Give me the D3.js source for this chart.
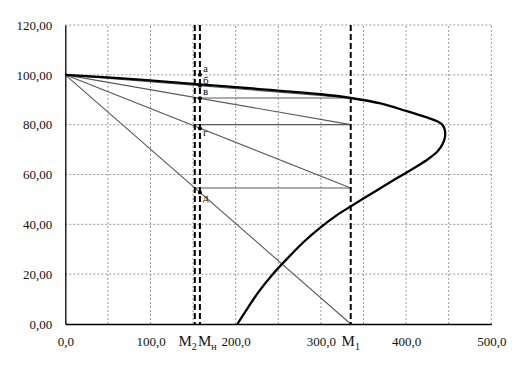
<!DOCTYPE html>
<html><head><meta charset="utf-8">
<script src="https://cdn.jsdelivr.net/npm/d3@7"></script>
<style>
html,body{margin:0;padding:0;background:#fff;}
svg{display:block;font-family:"Liberation Serif","DejaVu Serif",serif;}
</style></head>
<body><svg id="c" width="522" height="374"></svg>
<script>
// ---- data ----
const xTickValues = [0, 100, 200, 300, 400, 500];
const yTickValues = [0, 20, 40, 60, 80, 100, 120];
const xGridValues = [50, 100, 150, 200, 250, 300, 350, 400, 450, 500];
const yGridValues = [20, 40, 60, 80, 100, 120];
// natural characteristic (torque M, speed n %)
const curveM = [0, 75, 150, 228, 300, 335, 370, 400, 426, 437, 443, 445.5, 445.7, 443, 437, 426, 410, 390, 365, 335, 318, 300, 281, 262, 244, 228, 215, 202];
const curveN = [100, 98.4, 96.4, 94.3, 92.2, 90.7, 88.5, 85.5, 82.7, 81.3, 79.8, 77.8, 75.2, 72.3, 69.3, 66.2, 62.7, 58.7, 53.5, 47.2, 43.5, 38.9, 33.3, 26.8, 20.2, 13.4, 6.9, 0];
// switching torques
const M2 = 152, Mn = 158, M1 = 335;
const startSpeed = 100;
const rayEndSpeeds = [90.7, 80, 54.6, 0];      // artificial characteristics end at M1
const stepSpeeds = [90.7, 80, 54.6];            // horizontal transitions
const stepStartM = [155.8, 152, 152];
const pointNames = ["а", "б", "в", "г", "д"];
const pointSpeeds = [100, 95.6, 90.6, 78.5, 52.8];
const markerNames = ["M2", "Mн", "M1"];

// ---- layout ----
const svg = d3.select("#c");
const x = d3.scaleLinear().domain([0, 500]).range([65.3, 491.3]);
const y = d3.scaleLinear().domain([0, 120]).range([324, 25]);
const loc = d3.formatLocale({decimal: ",", thousands: " ", grouping: [3], currency: ["", ""]});
const fy = loc.format(".2f"), fx = loc.format(".1f");

// grid
svg.append("g").selectAll("line").data(xGridValues).join("line")
  .attr("x1", d => x(d)).attr("x2", d => x(d)).attr("y1", y(0)).attr("y2", y(120))
  .attr("stroke", "#9a9a9a").attr("stroke-width", 1).attr("stroke-dasharray", "2,2");
svg.append("g").selectAll("line").data(yGridValues).join("line")
  .attr("y1", d => y(d)).attr("y2", d => y(d)).attr("x1", x(0)).attr("x2", x(500))
  .attr("stroke", "#9a9a9a").attr("stroke-width", 1).attr("stroke-dasharray", "2,2");

// axes
const ax = svg.append("g").attr("transform", `translate(0,${y(0)})`)
  .call(d3.axisBottom(x).tickValues(xTickValues).tickSize(0).tickPadding(13).tickFormat(fx));
const ay = svg.append("g").attr("transform", `translate(${x(0)},0)`)
  .call(d3.axisLeft(y).tickValues(yTickValues).tickSize(0).tickPadding(13).tickFormat(fy));
[ax, ay].forEach(g => {
  g.select(".domain").attr("stroke", "#000").attr("stroke-width", 1.3);
  g.selectAll("text").attr("font-family", "Liberation Serif, serif").attr("font-size", 13).attr("fill", "#111");
});

// rays from (0,100)
const thin = "#5a5a5a";
svg.append("g").selectAll("line").data(rayEndSpeeds).join("line")
  .attr("x1", x(0)).attr("y1", y(startSpeed)).attr("x2", x(M1)).attr("y2", d => y(d))
  .attr("stroke", thin).attr("stroke-width", 1.1);
// horizontal steps
svg.append("g").selectAll("line").data(stepSpeeds).join("line")
  .attr("x1", (d, i) => x(stepStartM[i])).attr("x2", x(M1)).attr("y1", d => y(d)).attr("y2", d => y(d))
  .attr("stroke", thin).attr("stroke-width", 1.1);

// natural characteristic
const pts = curveM.map((m, i) => [m, curveN[i]]);
svg.append("path").datum(pts)
  .attr("d", d3.line().x(d => x(d[0])).y(d => y(d[1])).curve(d3.curveCatmullRom.alpha(0.5)))
  .attr("fill", "none").attr("stroke", "#000").attr("stroke-width", 2.3).attr("stroke-linejoin", "round");

// dashed verticals
svg.append("g").selectAll("line").data([M2, Mn, M1]).join("line")
  .attr("x1", d => x(d)).attr("x2", d => x(d)).attr("y1", y(120)).attr("y2", y(0))
  .attr("stroke", "#000").attr("stroke-width", 2).attr("stroke-dasharray", "6,3");

// points on Mн
svg.append("g").selectAll("circle").data(pointSpeeds).join("circle")
  .attr("cx", x(Mn)).attr("cy", d => y(d)).attr("r", 2).attr("fill", "#000");
const labelDy = [-3, -2, -3, 8, 9];
svg.append("g").selectAll("text").data(pointNames).join("text")
  .attr("x", x(Mn) + 3).attr("y", (d, i) => y(pointSpeeds[i]) + labelDy[i])
  .attr("font-size", 11).attr("fill", "#111").text(d => d);

// M labels
const mVals = [M2, Mn, M1];
const mg = svg.append("g").attr("font-size", 15).attr("fill", "#111");
mVals.forEach((v, i) => {
  const t = mg.append("text").attr("y", 346);
  t.append("tspan").text(markerNames[i][0]);
  t.append("tspan").attr("font-size", 10).attr("dy", 4).text(markerNames[i].slice(1));
  const w = t.node().getComputedTextLength();
  const anchorX = i === 0 ? x(v) - w + 2 : (i === 1 ? x(v) - 2 : x(v) - w / 2);
  t.attr("x", anchorX);
});
</script></body></html>
